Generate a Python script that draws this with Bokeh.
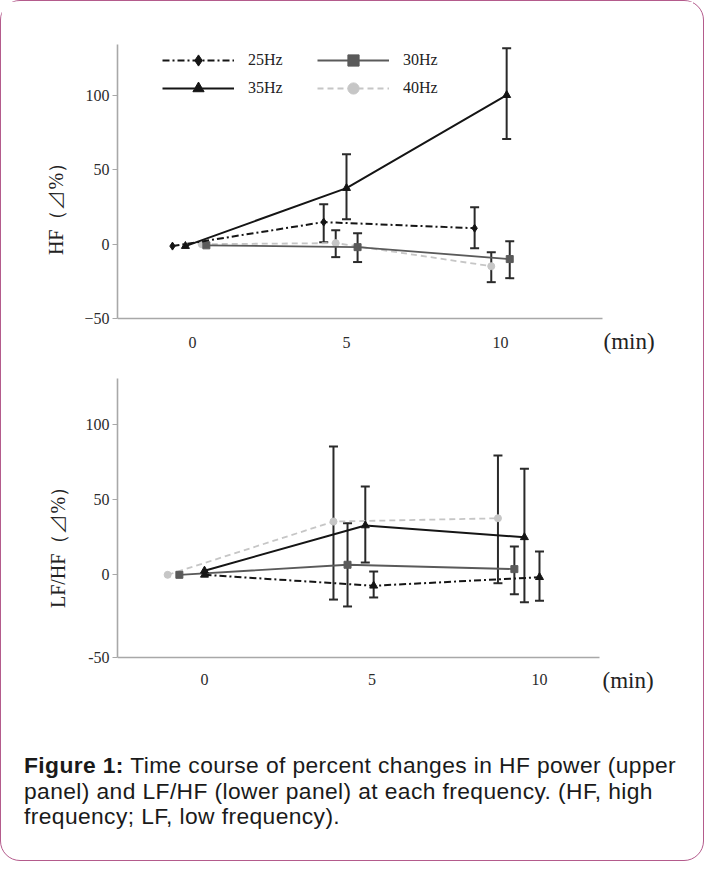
from bokeh.plotting import figure
from bokeh.models import (ColumnDataSource, Whisker, TeeHead, Legend, LegendItem,
                          Label, FixedTicker, Range1d, Div)
from bokeh.layouts import column
from bokeh.embed import file_html
from bokeh.resources import INLINE

# ---------------- data ----------------
x_ticks = [0, 5, 10]
y_ticks = [-50, 0, 50, 100]

# upper panel: HF (delta %)
hf25_t = [-0.65, 4.26, 9.16]
hf25_v = [-1.3, 14.8, 10.7]
hf25_hi = [None, 26.8, 24.8]
hf25_lo = [None, 1.3, -2.7]

hf30_t = [0.45, 5.36, 10.3]
hf30_v = [-0.8, -2.0, -10.0]
hf30_hi = [None, 7.4, 2.0]
hf30_lo = [None, -12.0, -22.8]

hf35_t = [-0.23, 5.0, 10.2]
hf35_v = [-1.3, 37.6, 100.0]
hf35_hi = [None, 60.4, 131.5]
hf35_lo = [None, 16.8, 70.5]

hf40_t = [0.3, 4.65, 9.7]
hf40_v = [0.0, 0.7, -14.8]
hf40_hi = [None, 9.4, -5.4]
hf40_lo = [None, -8.7, -25.5]

# lower panel: LF/HF (delta %)
lh25_t = [0.0, 5.05, 10.0]
lh25_v = [0.0, -7.3, -1.6]
lh25_hi = [None, 2.2, 15.6]
lh25_lo = [None, -15.1, -17.3]

lh30_t = [-0.75, 4.27, 9.25]
lh30_v = [0.0, 6.7, 3.8]
lh30_hi = [None, 34.4, 18.9]
lh30_lo = [None, -21.1, -12.9]

lh35_t = [0.0, 4.8, 9.55]
lh35_v = [2.7, 32.9, 25.0]
lh35_hi = [None, 58.9, 70.7]
lh35_lo = [None, 8.2, -18.3]

lh40_t = [-1.1, 3.85, 8.76]
lh40_v = [0.0, 35.5, 37.7]
lh40_hi = [None, 85.5, 79.5]
lh40_lo = [None, -16.5, -5.6]

labels = ["25Hz", "30Hz", "35Hz", "40Hz"]
legend_order = ["25Hz", "35Hz", "30Hz", "40Hz"]   # row-wise in 2 columns

STYLE = {
    "25Hz": dict(color="#151515", dash="7 3 2 3", width=2.0, marker="diamond", size=8),
    "30Hz": dict(color="#5a5a5a", dash="solid", width=1.8, marker="square", size=7),
    "35Hz": dict(color="#151515", dash="solid", width=2.0, marker="triangle", size=8),
    "40Hz": dict(color="#c6c6c6", dash="6 4", width=1.8, marker="circle", size=7),
}

SERIF = "Liberation Serif"


def style_axes(p, y_axis_bottom, x_axis_end):
    p.xgrid.visible = False
    p.ygrid.visible = False
    p.outline_line_color = None
    p.background_fill_color = "white"
    p.border_fill_color = "white"
    p.xaxis.ticker = FixedTicker(ticks=x_ticks)
    for ax in (p.xaxis[0], p.yaxis[0]):
        ax.axis_line_color = "#a8a8a8"
        ax.axis_line_width = 1.6
        ax.major_label_text_font = SERIF
        ax.major_label_text_font_size = "16px"
        ax.major_label_text_color = "#2b2b2b"
        ax.minor_tick_line_color = None
    xa = p.xaxis[0]
    xa.fixed_location = y_axis_bottom
    xa.bounds = (p.x_range.start, x_axis_end)
    xa.major_tick_line_color = None
    xa.major_tick_out = 0
    xa.major_tick_in = 0
    ya = p.yaxis[0]
    ya.bounds = (y_axis_bottom, p.y_range.end)
    ya.major_tick_line_color = "#a8a8a8"
    ya.major_tick_out = 5
    ya.major_tick_in = 0
    ya.major_label_standoff = 3
    ya.axis_label_text_font = SERIF
    ya.axis_label_text_font_size = "20px"
    ya.axis_label_text_font_style = "normal"
    ya.axis_label_text_color = "#222222"
    ya.axis_label_standoff = 14


def draw_series(p, name, t, v, hi, lo, marker=None):
    s = STYLE[name]
    src = ColumnDataSource(dict(t=t, v=v))
    lr = p.line("t", "v", source=src, line_color=s["color"], line_width=s["width"],
                line_dash=s["dash"])
    sr = p.scatter("t", "v", source=src, marker=marker or s["marker"], size=s["size"],
                   fill_color=s["color"], line_color=s["color"])
    et = [a for a, h in zip(t, hi) if h is not None]
    eh = [h for h in hi if h is not None]
    el = [l for l in lo if l is not None]
    esrc = ColumnDataSource(dict(t=et, hi=eh, lo=el))
    w = Whisker(base="t", upper="hi", lower="lo", source=esrc, line_color="#2a2a2a",
                line_width=2,
                upper_head=TeeHead(size=9, line_color="#2a2a2a", line_width=2),
                lower_head=TeeHead(size=9, line_color="#2a2a2a", line_width=2))
    p.add_layout(w)
    return lr, sr


W = 692
LEFT = 116
FRAME_W = 565

# ---------------- upper panel ----------------
p1 = figure(width=W, height=365, x_range=Range1d(-2.435, 15.909), y_range=Range1d(-82.1, 134),
            output_backend="svg", toolbar_location=None,
            min_border_left=LEFT, min_border_right=W - LEFT - FRAME_W,
            min_border_top=43, min_border_bottom=0)
p1.yaxis.ticker = FixedTicker(ticks=y_ticks)
style_axes(p1, -50, 13.312)
p1.xaxis.major_label_standoff = 18
p1.yaxis.axis_label = "HF（⊿%）"

rend = {}
for name, t, v, hi, lo in [("40Hz", hf40_t, hf40_v, hf40_hi, hf40_lo),
                           ("30Hz", hf30_t, hf30_v, hf30_hi, hf30_lo),
                           ("25Hz", hf25_t, hf25_v, hf25_hi, hf25_lo),
                           ("35Hz", hf35_t, hf35_v, hf35_hi, hf35_lo)]:
    rend[name] = draw_series(p1, name, t, v, hi, lo)

legend = Legend(items=[LegendItem(label=n, renderers=list(rend[n])) for n in legend_order],
                ncols=2, location=(45, 264), glyph_width=72, glyph_height=28,
                label_standoff=14, label_width=69, spacing=0, padding=0, margin=0,
                background_fill_alpha=0, border_line_color=None,
                label_text_font=SERIF, label_text_font_size="16px",
                label_text_color="#222222")
p1.add_layout(legend)
p1.add_layout(Label(x=13.312, y=-50, x_offset=1, y_offset=-23, text="(min)",
                    text_font=SERIF, text_font_size="23px", text_color="#222222",
                    text_baseline="middle", text_align="left"))

# ---------------- lower panel ----------------
LOW_BOTTOM = -55.1
p2 = figure(width=W, height=343, x_range=Range1d(-2.597, 14.269), y_range=Range1d(-89.8, 130.9),
            output_backend="svg", toolbar_location=None,
            min_border_left=LEFT, min_border_right=W - LEFT - FRAME_W,
            min_border_top=12, min_border_bottom=0)
# the reference labels its bottom edge "-50"
p2.yaxis.ticker = FixedTicker(ticks=[LOW_BOTTOM, 0, 50, 100])
p2.yaxis.major_label_overrides = {LOW_BOTTOM: "-50"}
style_axes(p2, LOW_BOTTOM, 11.791)
p2.xaxis.major_label_standoff = 17
p2.yaxis.axis_label = "LF/HF（⊿%）"

for name, t, v, hi, lo, mk in [("40Hz", lh40_t, lh40_v, lh40_hi, lh40_lo, None),
                               ("30Hz", lh30_t, lh30_v, lh30_hi, lh30_lo, None),
                               ("25Hz", lh25_t, lh25_v, lh25_hi, lh25_lo, "triangle"),
                               ("35Hz", lh35_t, lh35_v, lh35_hi, lh35_lo, None)]:
    draw_series(p2, name, t, v, hi, lo, marker=mk)

p2.add_layout(Label(x=11.791, y=LOW_BOTTOM, x_offset=3, y_offset=-23, text="(min)",
                    text_font=SERIF, text_font_size="23px", text_color="#222222",
                    text_baseline="middle", text_align="left"))

# ---------------- caption ----------------
caption_bold = "Figure 1:"
caption_lines = ["Time course of percent changes in HF power (upper",
                 "panel) and LF/HF (lower panel) at each frequency. (HF, high",
                 "frequency; LF, low frequency)."]
cap_html = ('<div style="padding: 39px 0 0 18px; white-space: nowrap; '
            "font-family: 'Liberation Sans', Arial, sans-serif; font-size: 22.8px; "
            'letter-spacing: 0.4px; line-height: 25.5px; color: #1a1a1a;">'
            "<b>" + caption_bold + "</b> " + "<br>".join(caption_lines) + "</div>")
cap = Div(text=cap_html, width=W, height=141)

layout = column(p1, p2, cap,
                styles={"border": "1.5px solid #b45b8c", "border-radius": "20px",
                        "background-color": "white"})

open("out.html", "w").write(file_html(layout, INLINE))
